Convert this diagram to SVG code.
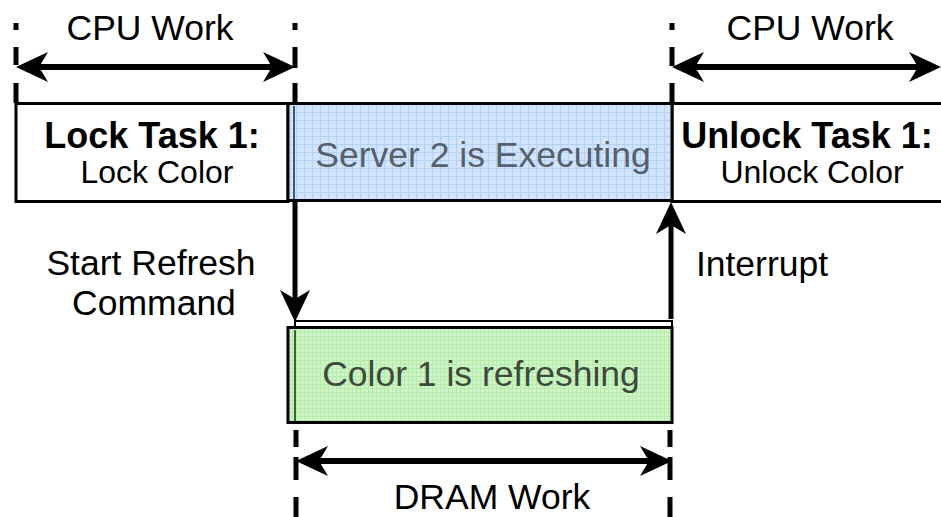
<svg xmlns="http://www.w3.org/2000/svg" width="941" height="517" viewBox="0 0 941 517">
  <style>
    .lbl { font-family: "Liberation Sans", Arial, Helvetica, sans-serif; fill: #000; text-anchor: middle; }
    .big { font-size: 35.5px; }
    .sub { font-size: 32px; }
    .bold { font-weight: bold; font-size: 36px; }
    .box { stroke: #000; stroke-width: 3; }
    .dash { stroke: #000; stroke-width: 5; fill: none; }
    .arr { stroke: #000; stroke-width: 6; fill: none; }
    .varr { stroke: #000; stroke-width: 5; fill: none; }
  </style>
  <defs>
    <!-- light blue grid paper -->
    <pattern id="blueGrid" width="8" height="8" patternUnits="userSpaceOnUse">
      <rect width="8" height="8" fill="#cfe4fc"/>
      <path d="M0,0.5 H8 M0.5,0 V8" stroke="#b3d2f6" stroke-width="1"/>
      <rect x="4" y="4" width="1" height="1" fill="#e8f2fe"/>
    </pattern>
    <!-- light green fine grid -->
    <pattern id="greenGrid" width="4" height="4" patternUnits="userSpaceOnUse">
      <rect width="4" height="4" fill="#d0f5c8"/>
      <path d="M0,0.5 H4 M0.5,0 V4" stroke="#b7ebab" stroke-width="1"/>
    </pattern>
    <marker id="head" viewBox="-24 -17 36 34" refX="0" refY="0" markerWidth="36" markerHeight="34" markerUnits="userSpaceOnUse" orient="auto-start-reverse">
      <path d="M10,0 L-22,-15 L-13,0 L-22,15 Z" fill="#000"/>
    </marker>
  </defs>

  <rect width="941" height="517" fill="#fff"/>

  <!-- CPU side tasks -->
  <g id="lock-task">
    <rect class="box" x="16" y="103.5" width="272" height="98" fill="#fff"/>
    <text class="lbl bold" x="152" y="148">Lock Task 1:</text>
    <text class="lbl sub" x="157" y="183">Lock Color</text>
  </g>

  <g id="unlock-task">
    <rect class="box" x="672" y="103.5" width="275" height="98" fill="#fff"/>
    <text class="lbl bold" x="807" y="148">Unlock Task 1:</text>
    <text class="lbl sub" x="812" y="183">Unlock Color</text>
  </g>

  <g id="server-exec">
    <rect x="288" y="103.5" width="384" height="97" fill="url(#blueGrid)" stroke="#000" stroke-width="3"/>
    <line x1="294" y1="106" x2="294" y2="199" stroke="#3d5a78" stroke-width="2"/>
    <text class="lbl big" x="483" y="167" style="fill:#55606c">Server 2 is Executing</text>
  </g>

  <g id="color-refresh">
    <rect x="295" y="321" width="377" height="6" fill="#fff" stroke="#000" stroke-width="2"/>
    <rect x="288" y="327.5" width="384" height="95" fill="url(#greenGrid)" stroke="#000" stroke-width="3"/>
    <line x1="295" y1="330" x2="295" y2="421" stroke="#2f6a2a" stroke-width="2"/>
    <text class="lbl big" x="481" y="386" style="fill:#3c4a3c">Color 1 is refreshing</text>
  </g>

  <!-- labels on the time spans and the signals -->
  <g id="labels">
    <text class="lbl big" x="150" y="40">CPU Work</text>
    <text class="lbl big" x="810" y="40">CPU Work</text>
    <text class="lbl big" x="492" y="509">DRAM Work</text>
    <text class="lbl big" x="151" y="275">Start Refresh</text>
    <text class="lbl big" x="154" y="315">Command</text>
    <text class="lbl big" x="762" y="276">Interrupt</text>
  </g>

  <g id="connectors">
    <!-- dashed span boundaries -->
    <path class="dash" d="M16,23 V30 M16,47 V65 M16,83 V103"/>
    <path class="dash" d="M295,23 V30 M295,47 V68 M295,83 V103"/>
    <path class="dash" d="M672,23 V30 M672,47 V66 M672,83 V103"/>
    <path class="dash" d="M296,430 V447 M296,457 V480 M296,497 V517"/>
    <path class="dash" d="M670,430 V447 M670,457 V480 M670,497 V517"/>

    <!-- span arrows -->
    <line class="arr" x1="26" y1="67" x2="285" y2="67" marker-start="url(#head)" marker-end="url(#head)"/>
    <line class="arr" x1="682" y1="67" x2="931" y2="67" marker-start="url(#head)" marker-end="url(#head)"/>
    <line class="arr" x1="306" y1="461" x2="662" y2="461" marker-start="url(#head)" marker-end="url(#head)"/>

    <!-- start refresh command / interrupt -->
    <line class="varr" x1="295" y1="202" x2="295" y2="312" marker-end="url(#head)"/>
    <line class="varr" x1="671" y1="319" x2="671" y2="212" marker-end="url(#head)"/>
  </g>
</svg>
